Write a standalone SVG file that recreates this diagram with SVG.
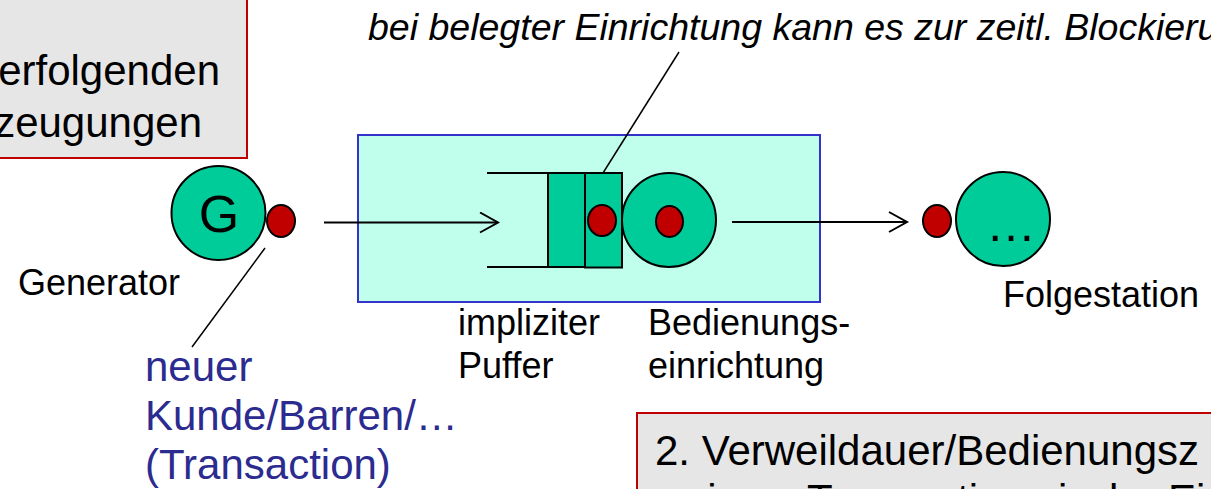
<svg xmlns="http://www.w3.org/2000/svg" width="1211" height="489" viewBox="0 0 1211 489">
<style>
text{font-family:"Liberation Sans",Arial,sans-serif;fill:#000}
.lbl{font-size:36px}
.big{font-size:42px}
.blue{fill:#2b2b90;font-size:42px}
.note{fill:#e6e6e6;stroke:#c00000;stroke-width:2}
.st{fill:#00cc99;stroke:#000;stroke-width:2}
.tok{fill:#c00000;stroke:#000;stroke-width:2}
.ln{stroke:#000;stroke-width:2;fill:none}
.thin{stroke:#000;stroke-width:1.5;fill:none}
</style>
<defs>
<marker id="arr" markerWidth="22" markerHeight="22" refX="19" refY="11" orient="auto" markerUnits="userSpaceOnUse">
<path d="M1,1 L19,11 L1,21" fill="none" stroke="#000" stroke-width="2"/>
</marker>
</defs>

<g id="note-top">
<rect class="note" x="-5" y="-5" width="252" height="163"/>
<text class="big" x="220" y="85" text-anchor="end">erfolgenden</text>
<text class="big" x="202" y="137" text-anchor="end">zeugungen</text>
</g>

<g id="station-box">
<rect x="358" y="135" width="462" height="167" fill="#c0ffec" stroke="#3333cc" stroke-width="2"/>
</g>

<g id="generator">
<circle class="st" cx="218.5" cy="213" r="47"/>
<text x="219" y="232" font-size="52" text-anchor="middle">G</text>
<ellipse class="tok" cx="281" cy="221" rx="14" ry="16"/>
<text class="lbl" x="18" y="295">Generator</text>
</g>

<g id="buffer">
<line class="ln" x1="487" y1="173" x2="548" y2="173"/>
<line class="ln" x1="487" y1="267" x2="603" y2="267"/>
<rect class="st" x="548" y="173" width="37" height="94"/>
<rect class="st" x="585" y="173" width="37" height="94.5"/>
<ellipse class="tok" cx="602" cy="220.5" rx="14" ry="15.5"/>
<text class="lbl" x="458" y="335">impliziter</text>
<text class="lbl" x="458" y="378">Puffer</text>
</g>

<g id="server">
<circle class="st" cx="669" cy="220" r="47"/>
<ellipse class="tok" cx="669.5" cy="221.5" rx="13.5" ry="15.5"/>
<text class="lbl" x="648" y="335">Bedienungs-</text>
<text class="lbl" x="648" y="378">einrichtung</text>
</g>

<g id="next-station">
<ellipse class="tok" cx="937" cy="221" rx="14" ry="16"/>
<circle class="st" cx="1003" cy="219" r="47"/>
<text x="1011" y="241" font-size="50" text-anchor="middle">…</text>
<text class="lbl" x="1003" y="307">Folgestation</text>
</g>

<g id="connectors">
<line class="ln" x1="324" y1="222.5" x2="498" y2="222.5" marker-end="url(#arr)"/>
<line class="ln" x1="732" y1="222" x2="907" y2="222" marker-end="url(#arr)"/>
<line class="thin" x1="603" y1="173" x2="679" y2="52"/>
<line class="thin" x1="265" y1="248" x2="192" y2="347"/>
</g>

<g id="annotation-top">
<text x="368" y="40" font-size="37.5" font-style="italic">bei belegter Einrichtung kann es zur zeitl. Blockieru</text>
</g>

<g id="token-label">
<text class="blue" x="145" y="381">neuer</text>
<text class="blue" x="145" y="430">Kunde/Barren/…</text>
<text class="blue" x="145" y="479">(Transaction)</text>
</g>

<g id="note-bottom">
<rect class="note" x="637" y="413" width="600" height="100"/>
<text class="big" x="655" y="465">2. Verweildauer/Bedienungsz</text>
<text class="big" y="514"><tspan x="684">einer</tspan><tspan x="807">Transaction</tspan><tspan x="1058">in</tspan><tspan x="1095">der</tspan><tspan x="1168">Ei</tspan></text>
</g>
</svg>
